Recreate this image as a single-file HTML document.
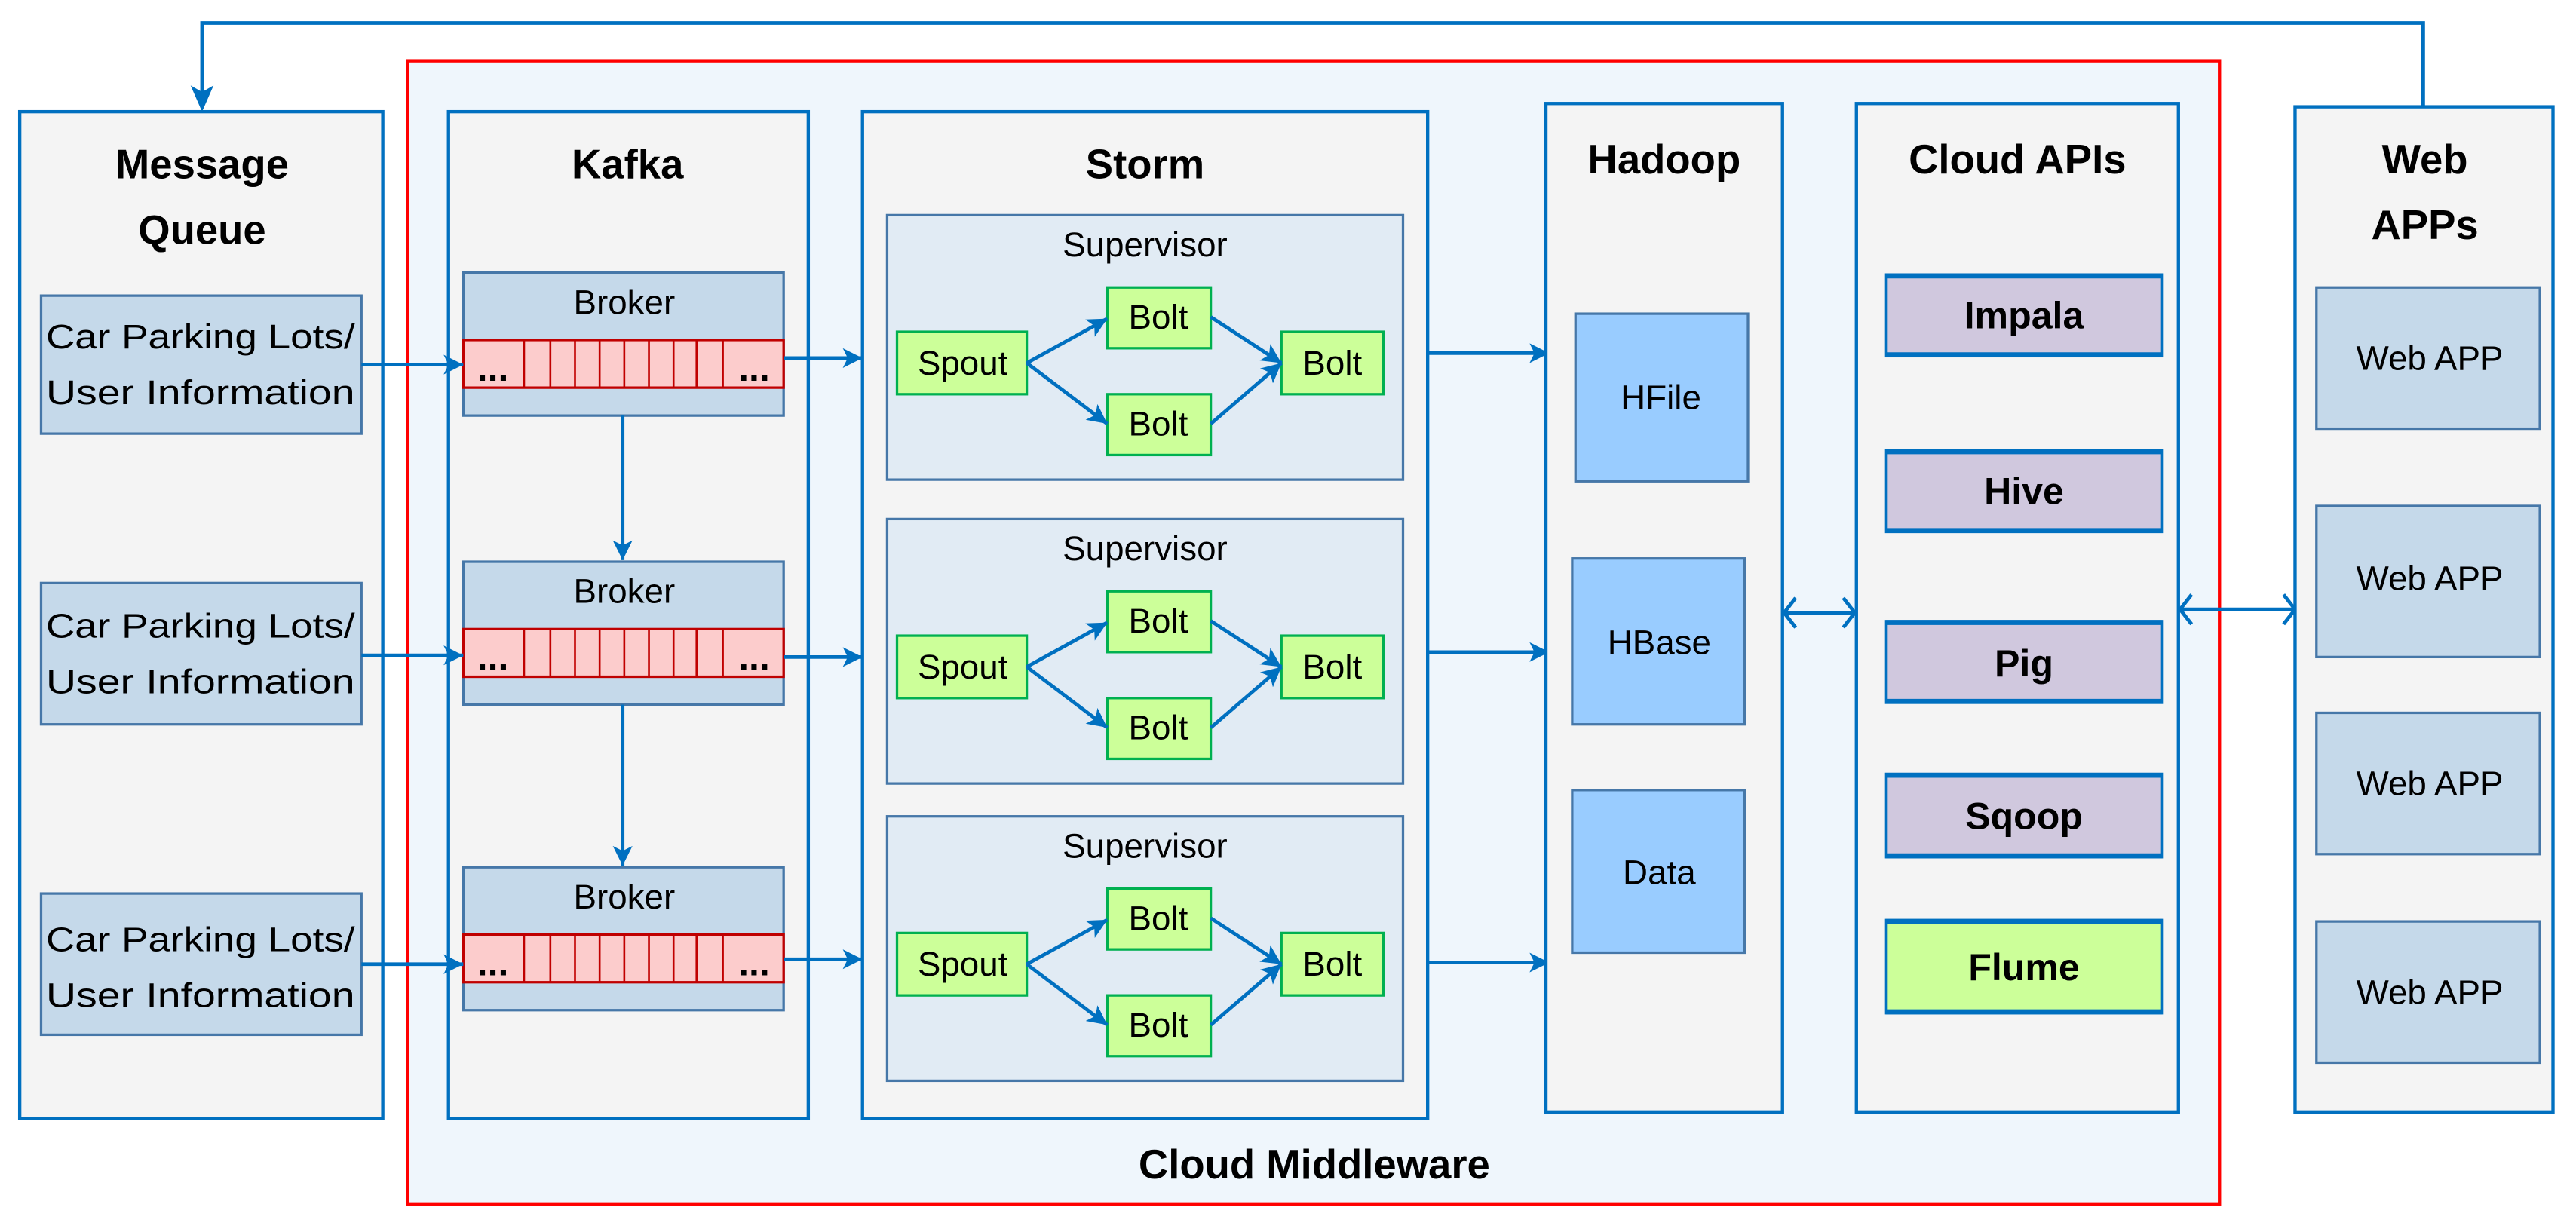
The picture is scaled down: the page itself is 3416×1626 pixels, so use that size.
<!DOCTYPE html>
<html><head><meta charset="utf-8"><style>
html,body{margin:0;padding:0;background:#fff}
svg{display:block}
text{font-family:"Liberation Sans",sans-serif;fill:#000;text-anchor:middle;dominant-baseline:central}
.t{font-weight:bold;font-size:25px}
.n{font-size:21px}
.b{font-weight:bold;font-size:23px}
</style></head><body>
<svg width="3416" height="1626" viewBox="0 0 1568 746.4" preserveAspectRatio="none" xmlns="http://www.w3.org/2000/svg">
<defs>
<marker id="a" viewBox="0 0 12 12" refX="12" refY="6" markerWidth="12" markerHeight="12" orient="auto" markerUnits="userSpaceOnUse">
<path d="M0,0 L12,6 L0,12 L3,6 z" fill="#0070c0"/>
</marker>
</defs>
<style>
.ln{stroke:#0070c0;stroke-width:2.2;fill:none}
</style>
<rect x="248" y="37" width="1103" height="696" fill="#eff6fc" stroke="#ff0000" stroke-width="2"/>
<text class="t" x="800" y="709">Cloud Middleware</text>

<polyline class="ln" points="1475,65 1475,14 123,14 123,56"/>
<path d="M116,52 L123,68 L130,52 L123,56 z" fill="#0070c0"/>

<rect x="12" y="68" width="221" height="613" fill="#f4f4f4" stroke="#0070c0" stroke-width="2"/>
<text class="t" x="123" y="100">Message</text>
<text class="t" x="123" y="140">Queue</text>
<g fill="#c5d9ea" stroke="#4677a8" stroke-width="1.5">
<rect x="25" y="180" width="195" height="84"/>
<rect x="25" y="355" width="195" height="86"/>
<rect x="25" y="544" width="195" height="86"/>
</g>
<g class="n">
<text x="122" y="205" textLength="188" lengthAdjust="spacingAndGlyphs">Car Parking Lots/</text><text x="122" y="239" textLength="188" lengthAdjust="spacingAndGlyphs">User Information</text>
<text x="122" y="381" textLength="188" lengthAdjust="spacingAndGlyphs">Car Parking Lots/</text><text x="122" y="415" textLength="188" lengthAdjust="spacingAndGlyphs">User Information</text>
<text x="122" y="572" textLength="188" lengthAdjust="spacingAndGlyphs">Car Parking Lots/</text><text x="122" y="606" textLength="188" lengthAdjust="spacingAndGlyphs">User Information</text>
</g>

<rect x="273" y="68" width="219" height="613" fill="#f4f4f4" stroke="#0070c0" stroke-width="2"/>
<text class="t" x="382" y="100">Kafka</text>
<g id="br">
<rect x="282" y="166" width="195" height="87" fill="#c5d9ea" stroke="#4677a8" stroke-width="1.5"/>
<text class="n" x="380" y="184">Broker</text>
<rect x="282" y="207" width="195" height="29" fill="#fccccc" stroke="#c00000" stroke-width="1.5"/>
<g stroke="#c00000" stroke-width="1.2">
<line x1="319" y1="207" x2="319" y2="236"/><line x1="335" y1="207" x2="335" y2="236"/>
<line x1="350" y1="207" x2="350" y2="236"/><line x1="365" y1="207" x2="365" y2="236"/>
<line x1="380" y1="207" x2="380" y2="236"/><line x1="395" y1="207" x2="395" y2="236"/>
<line x1="410" y1="207" x2="410" y2="236"/><line x1="424" y1="207" x2="424" y2="236"/>
<line x1="440" y1="207" x2="440" y2="236"/>
</g>
<text class="b" x="300" y="224">...</text><text class="b" x="459" y="224">...</text>
</g>
<use href="#br" y="176"/>
<use href="#br" y="362"/>
<line class="ln" x1="379" y1="253" x2="379" y2="341" marker-end="url(#a)"/>
<line class="ln" x1="379" y1="429" x2="379" y2="527" marker-end="url(#a)"/>
<line class="ln" x1="220" y1="222" x2="282" y2="222" marker-end="url(#a)"/>
<line class="ln" x1="220" y1="399" x2="282" y2="399" marker-end="url(#a)"/>
<line class="ln" x1="220" y1="587" x2="282" y2="587" marker-end="url(#a)"/>
<line class="ln" x1="477" y1="218" x2="525" y2="218" marker-end="url(#a)"/>
<line class="ln" x1="477" y1="400" x2="525" y2="400" marker-end="url(#a)"/>
<line class="ln" x1="477" y1="584" x2="525" y2="584" marker-end="url(#a)"/>

<rect x="525" y="68" width="344" height="613" fill="#f4f4f4" stroke="#0070c0" stroke-width="2"/>
<text class="t" x="697" y="100">Storm</text>
<g id="sv">
<rect x="540" y="131" width="314" height="161" fill="#e1ebf4" stroke="#4677a8" stroke-width="1.5"/>
<text class="n" x="697" y="149">Supervisor</text>
<g fill="#ccff99" stroke="#00b050" stroke-width="1.5">
<rect x="546" y="202" width="79" height="38"/>
<rect x="674" y="175" width="63" height="37"/>
<rect x="674" y="240" width="63" height="37"/>
<rect x="780" y="202" width="62" height="38"/>
</g>
<g class="n"><text x="586" y="221">Spout</text><text x="705" y="193">Bolt</text><text x="705" y="258">Bolt</text><text x="811" y="221">Bolt</text></g>
<line class="ln" x1="625" y1="221" x2="674" y2="194" marker-end="url(#a)"/>
<line class="ln" x1="625" y1="221" x2="674" y2="258" marker-end="url(#a)"/>
<line class="ln" x1="737" y1="193" x2="780" y2="221" marker-end="url(#a)"/>
<line class="ln" x1="737" y1="258" x2="780" y2="221" marker-end="url(#a)"/>
</g>
<use href="#sv" y="185"/>
<use href="#sv" y="366"/>
<line class="ln" x1="869" y1="215" x2="943" y2="215" marker-end="url(#a)"/>
<line class="ln" x1="869" y1="397" x2="943" y2="397" marker-end="url(#a)"/>
<line class="ln" x1="869" y1="586" x2="943" y2="586" marker-end="url(#a)"/>

<rect x="941" y="63" width="144" height="614" fill="#f4f4f4" stroke="#0070c0" stroke-width="2"/>
<text class="t" x="1013" y="97">Hadoop</text>
<g fill="#99ccff" stroke="#4677a8" stroke-width="1.5">
<rect x="959" y="191" width="105" height="102"/>
<rect x="957" y="340" width="105" height="101"/>
<rect x="957" y="481" width="105" height="99"/>
</g>
<g class="n"><text x="1011" y="242">HFile</text><text x="1010" y="391">HBase</text><text x="1010" y="531">Data</text></g>

<g class="ln">
<line x1="1086" y1="373" x2="1129" y2="373"/>
<polyline points="1093,364 1086,373 1093,382"/><polyline points="1122,364 1129,373 1122,382"/>
<line x1="1327" y1="371" x2="1397" y2="371"/>
<polyline points="1334,362 1327,371 1334,380"/><polyline points="1390,362 1397,371 1390,380"/>
</g>

<rect x="1130" y="63" width="196" height="614" fill="#f4f4f4" stroke="#0070c0" stroke-width="2"/>
<text class="t" x="1228" y="97">Cloud APIs</text>
<g stroke="#0070c0" stroke-width="1.2">
<rect x="1148" y="167" width="168" height="50" fill="#d0c8de"/>
<rect x="1148" y="274" width="168" height="50" fill="#d0c8de"/>
<rect x="1148" y="378" width="168" height="50" fill="#d0c8de"/>
<rect x="1148" y="471" width="168" height="51" fill="#d0c8de"/>
<rect x="1148" y="560" width="168" height="57" fill="#ccff99"/>
</g>
<g stroke="#0070c0" stroke-width="3">
<line x1="1148" y1="168" x2="1316" y2="168"/><line x1="1148" y1="216" x2="1316" y2="216"/>
<line x1="1148" y1="275" x2="1316" y2="275"/><line x1="1148" y1="323" x2="1316" y2="323"/>
<line x1="1148" y1="379" x2="1316" y2="379"/><line x1="1148" y1="427" x2="1316" y2="427"/>
<line x1="1148" y1="472" x2="1316" y2="472"/><line x1="1148" y1="521" x2="1316" y2="521"/>
<line x1="1148" y1="561" x2="1316" y2="561"/><line x1="1148" y1="616" x2="1316" y2="616"/>
</g>
<g class="b"><text x="1232" y="192">Impala</text><text x="1232" y="299">Hive</text><text x="1232" y="404">Pig</text><text x="1232" y="497">Sqoop</text><text x="1232" y="589">Flume</text></g>

<rect x="1397" y="65" width="157" height="612" fill="#f4f4f4" stroke="#0070c0" stroke-width="2"/>
<text class="t" x="1476" y="97">Web</text>
<text class="t" x="1476" y="137">APPs</text>
<g fill="#c5d9ea" stroke="#4677a8" stroke-width="1.5">
<rect x="1410" y="175" width="136" height="86"/>
<rect x="1410" y="308" width="136" height="92"/>
<rect x="1410" y="434" width="136" height="86"/>
<rect x="1410" y="561" width="136" height="86"/>
</g>
<g class="n"><text x="1479" y="218">Web APP</text><text x="1479" y="352">Web APP</text><text x="1479" y="477">Web APP</text><text x="1479" y="604">Web APP</text></g>
</svg>
</body></html>
